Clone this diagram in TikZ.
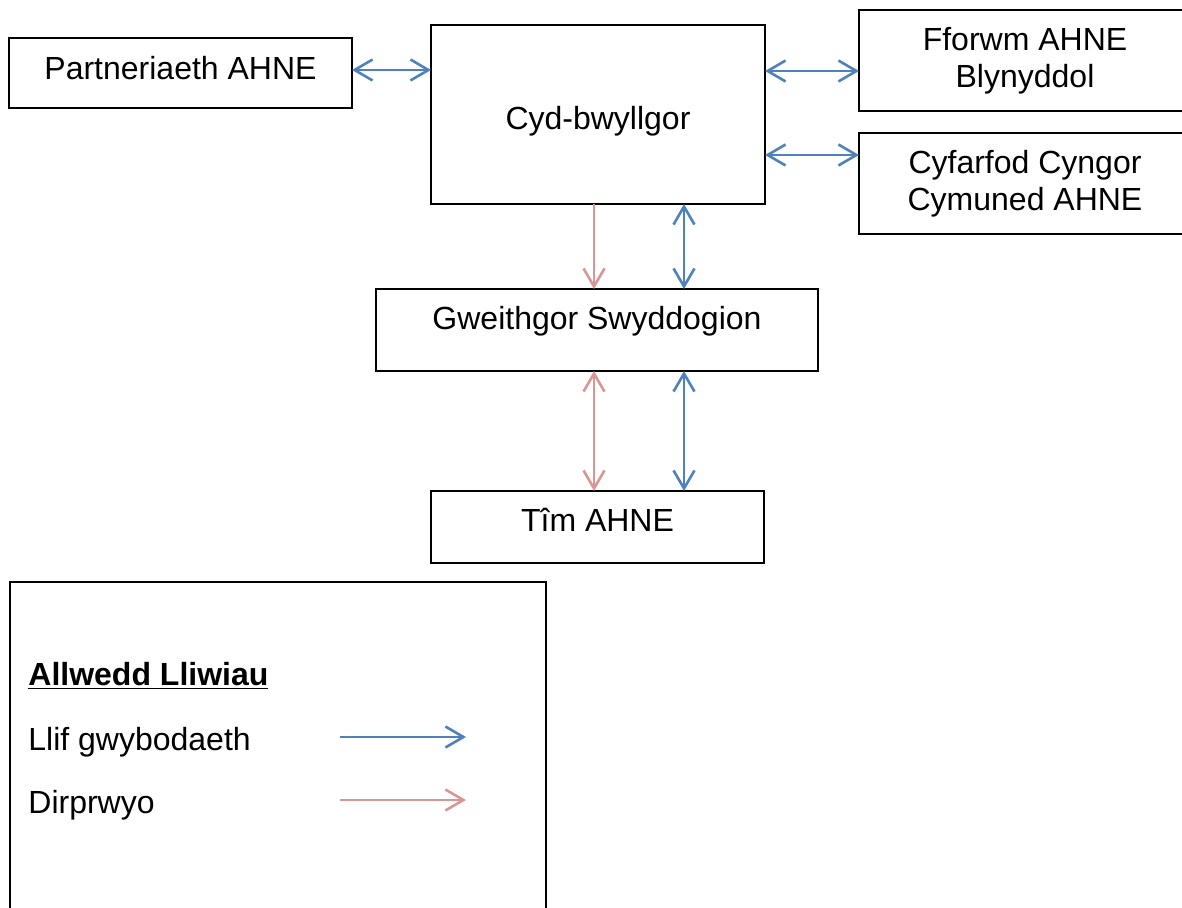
\documentclass[tikz,border=0pt]{standalone}
\usepackage{fontspec}
\setmainfont{Liberation Sans}
\usetikzlibrary{arrows.meta,calc}
\definecolor{flowblue}{HTML}{4F81BD}
\definecolor{delegred}{HTML}{D99694}

\begin{document}
\begin{tikzpicture}[
	x=0.5pt, y=-0.5pt,
	>={Straight Barb[length=9pt,width=10.5pt]},
	font=\fontsize{16}{18.5}\selectfont,
	unit/.style={draw, rectangle, line width=0.9pt, inner sep=0pt, outer sep=0pt, align=center},
	info/.style={<->, draw=flowblue, line width=1.3pt},
	deleg/.style={->, draw=delegred, line width=1.3pt},
	keytext/.style={anchor=base west, inner sep=0pt}
	]
	\useasboundingbox (0,0) rectangle (1182,908);
	
	% Committees
	\node[unit, minimum width=171.5pt, minimum height=35pt, text height=12pt, text depth=5.5pt] (part) at (180.5,73) {Partneriaeth AHNE};
	\node[unit, minimum width=167pt, minimum height=89.5pt, text height=18pt, text depth=3pt] (cyd) at (598,114.5) {Cyd-bwyllgor};
	\node[unit, minimum width=166pt, minimum height=50.5pt] (fforwm) at (1025,60.5) {Fforwm AHNE\\ Blynyddol};
	\node[unit, minimum width=166pt, minimum height=50.5pt] (cyfarfod) at (1025,183.5) {Cyfarfod Cyngor\\ Cymuned AHNE};
	\node[unit, minimum width=221pt, minimum height=41pt, text height=12pt, text depth=12pt] (gweith) at (597,330) {Gweithgor Swyddogion};
	\node[unit, minimum width=166.5pt, minimum height=36pt, text height=12pt, text depth=7.5pt] (tim) at (597.5,527) {Tîm AHNE};
	
	% Key
	\node[unit, minimum width=268pt, minimum height=184pt] (legend) at (278,766) {};
	\node[keytext] (keyhead) at (28,685) {\underline{\textbf{Allwedd Lliwiau}}};
	\node[keytext] (keyinfo) at (28,750) {Llif gwybodaeth};
	\node[keytext] (keydeleg) at (28,813) {Dirprwyo};
	\coordinate (infoS) at (340,737);
	\coordinate (infoE) at (466,737);
	\coordinate (delegS) at (340,800);
	\coordinate (delegE) at (466,800);
	
	% Information flow
	\draw[info] (part.east |- 0,70) -- (cyd.west |- 0,70);
	\draw[info] (cyd.east |- 0,71) -- (fforwm.west |- 0,71);
	\draw[info] (cyd.east |- 0,155) -- (cyfarfod.west |- 0,155);
	\draw[info] (cyd.south -| 684,0) -- (gweith.north -| 684,0);
	\draw[info] (gweith.south -| 684,0) -- (tim.north -| 684,0);
	
	% Delegation
	\draw[deleg] (cyd.south -| 594,0) -- (gweith.north -| 594,0);
	\draw[deleg, <->] (gweith.south -| 594,0) -- (tim.north -| 594,0);
	
	% Key arrows
	\draw[info, ->] (infoS) -- (infoE);
	\draw[deleg] (delegS) -- (delegE);
	
\end{tikzpicture}
\end{document}
